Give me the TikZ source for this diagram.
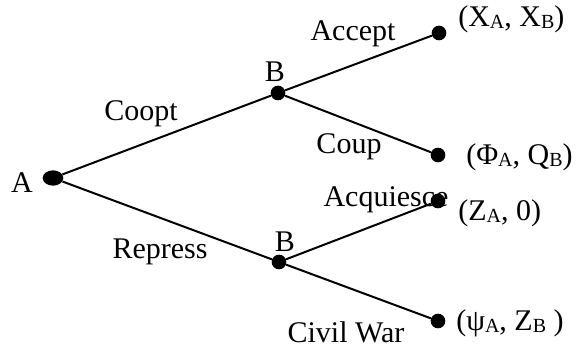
\documentclass[tikz,border=0pt]{standalone}
\usepackage{fontspec}
\setmainfont{Liberation Serif}
\usetikzlibrary{shapes.geometric}
\newcommand{\sbs}[1]{\raisebox{-0.2ex}{\fontsize{15}{17}\selectfont #1}}
\begin{document}
\begin{tikzpicture}[x=0.75pt,y=-0.75pt,
  every node/.style={font=\fontsize{22.5}{26}\selectfont},
  dot/.style={circle,fill=black,inner sep=0pt,minimum size=11pt},
  edge/.style={line width=1.5pt},
  lbl/.style={inner sep=0pt}]
\useasboundingbox (0,0) rectangle (582,348);
% decision and terminal nodes
\node[ellipse,fill=black,inner sep=0pt,minimum width=15.5pt,minimum height=11.5pt] (a) at (53,178) {};
\node[dot] (b1) at (278,93) {};
\node[dot] (b2) at (279,262) {};
\node[dot] (t1) at (439,33) {};
\node[dot] (t2) at (438,155) {};
\node[dot] (t3) at (438,201) {};
\node[dot] (t4) at (438,321) {};
% branches
\draw[edge] (a) -- (b1);
\draw[edge] (a) -- (b2);
\draw[edge] (b1) -- (t1);
\draw[edge] (b1) -- (t2);
\draw[edge] (b2) -- (t3);
\draw[edge] (b2) -- (t4);
% player labels
\node[lbl] (la) at (22,183) {A};
\node[lbl] (lb1) at (275,72) {B};
\node[lbl] (lb2) at (285,242) {B};
% action labels
\node[lbl] (coopt) at (141,114) {Coopt};
\node[lbl] (repress) at (160,252) {Repress};
\node[lbl] (accept) at (353,34) {Accept};
\node[lbl] (coup) at (349,147) {Coup};
\node[lbl] (acq) at (386,200) {Acquiesce};
\node[lbl] (civil) at (346,332) {Civil War};
% payoffs
\node[lbl,anchor=west] (p1) at (458,19) {(X\sbs{A}, X\sbs{B})};
\node[lbl,anchor=west] (p2) at (466,157) {(Φ\sbs{A}, Q\sbs{B})};
\node[lbl,anchor=west] (p3) at (458,213) {(Z\sbs{A}, 0)};
\node[lbl,anchor=west] (p4) at (456,323) {(ψ\sbs{A}, Z\sbs{B} )};
\end{tikzpicture}
\end{document}
